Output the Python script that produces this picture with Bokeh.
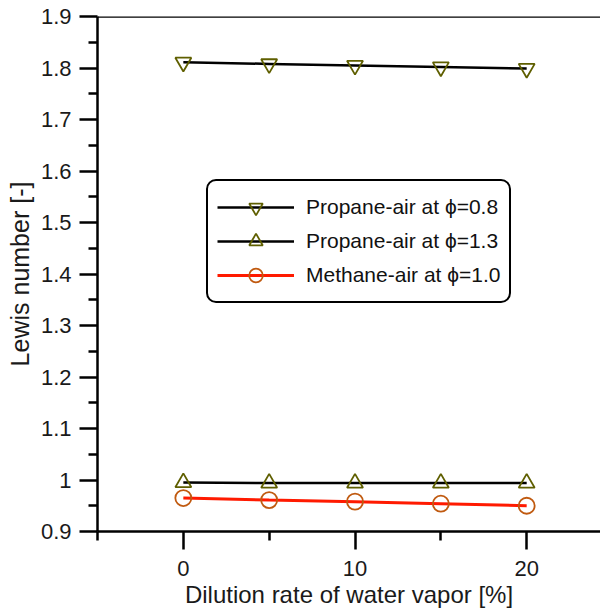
from bokeh.plotting import figure
from bokeh.models import (Range1d, FixedTicker, Span, Legend, LegendItem)
from bokeh.embed import file_html
from bokeh.resources import INLINE

# Data
dilution = [0, 5, 10, 15, 20]
propane_08 = [1.811, 1.808, 1.805, 1.802, 1.799]
propane_13 = [0.995, 0.994, 0.994, 0.994, 0.994]
methane_10 = [0.965, 0.961, 0.958, 0.954, 0.950]

x_major = [0, 10, 20]
x_minor = [-5, 5, 15]
y_major = [0.9, 1.0, 1.1, 1.2, 1.3, 1.4, 1.5, 1.6, 1.7, 1.8, 1.9]
y_minor = [0.95, 1.05, 1.15, 1.25, 1.35, 1.45, 1.55, 1.65, 1.75, 1.85]

FONT = "Liberation Sans"

p = figure(width=600, height=610, output_backend="svg", toolbar_location=None,
           x_range=Range1d(-5, 24.3), y_range=Range1d(0.9, 1.9),
           min_border_left=97, min_border_right=0, min_border_top=16, min_border_bottom=79)
p.outline_line_color = None
p.grid.visible = False
p.background_fill_color = "white"

for ax in (p.xaxis[0], p.yaxis[0]):
    ax.axis_line_width = 2.5
    ax.axis_line_color = "black"
    ax.major_tick_line_width = 2.5
    ax.minor_tick_line_width = 2.5
    ax.major_tick_line_color = "black"
    ax.minor_tick_line_color = "black"
    ax.major_tick_out = 18
    ax.major_tick_in = 0
    ax.minor_tick_out = 9
    ax.minor_tick_in = 0
    ax.major_label_text_font = FONT
    ax.major_label_text_font_size = "22px"
    ax.major_label_text_color = "#1a1a1a"
    ax.axis_label_text_font = FONT
    ax.axis_label_text_font_style = "normal"
    ax.axis_label_text_color = "#1a1a1a"

p.xaxis[0].axis_label_text_font_size = "24px"
p.yaxis[0].axis_label_text_font_size = "25px"
p.xaxis[0].ticker = FixedTicker(ticks=x_major, minor_ticks=x_minor)
p.yaxis[0].ticker = FixedTicker(ticks=y_major, minor_ticks=y_minor)
p.xaxis[0].major_label_overrides = {0: "0", 10: "10", 20: "20"}
p.yaxis[0].major_label_overrides = {1.0: "1"}
p.xaxis[0].axis_label = "Dilution rate of water vapor [%]"
p.yaxis[0].axis_label = "Lewis number [-]"
p.xaxis[0].major_label_standoff = 11
p.xaxis[0].axis_label_standoff = 2
p.yaxis[0].major_label_standoff = 8
p.yaxis[0].axis_label_standoff = 4

p.add_layout(Span(location=1.9, dimension="width", line_color="black", line_width=2.5))

olive = "#5f5f00"
l1 = p.line(dilution, propane_08, line_color="black", line_width=2.5)
m1 = p.scatter(dilution, propane_08, marker="inverted_triangle", size=16,
               fill_color=None, line_color=olive, line_width=1.8)
l2 = p.line(dilution, propane_13, line_color="black", line_width=2.5)
m2 = p.scatter(dilution, propane_13, marker="triangle", size=16,
               fill_color=None, line_color=olive, line_width=1.8)
l3 = p.line(dilution, methane_10, line_color="#ff1a00", line_width=3)
m3 = p.scatter(dilution, methane_10, marker="circle", size=16,
               fill_color=None, line_color="#c05a10", line_width=1.8)

legend = Legend(items=[
    LegendItem(label="Propane-air at \u03d5=0.8", renderers=[l1, m1]),
    LegendItem(label="Propane-air at \u03d5=1.3", renderers=[l2, m2]),
    LegendItem(label="Methane-air at \u03d5=1.0", renderers=[l3, m3]),
], location=(109, 228))
legend.label_text_font = FONT
legend.label_text_font_size = "21px"
legend.label_text_color = "#111111"
legend.glyph_width = 77
legend.glyph_height = 34
legend.label_height = 24
legend.label_standoff = 12
legend.spacing = 0
legend.padding = 9
legend.margin = 0
legend.border_line_color = "black"
legend.border_line_alpha = 1.0
legend.border_line_width = 2.5
legend.background_fill_color = "white"
legend.background_fill_alpha = 1.0
try:
    legend.border_radius = 10
except Exception:
    pass
p.add_layout(legend, "center")

open("out.html", "w").write(file_html(p, INLINE))
